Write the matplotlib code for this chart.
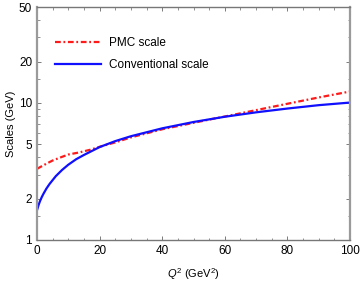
import numpy as np
import matplotlib
matplotlib.use('Agg')
import matplotlib.pyplot as plt
from matplotlib.ticker import FixedLocator, NullFormatter

plt.rcParams['font.family'] = ['Liberation Sans', 'DejaVu Sans']
plt.rcParams['mathtext.fontset'] = 'custom'
plt.rcParams['mathtext.it'] = 'Liberation Sans:italic'
plt.rcParams['mathtext.rm'] = 'Liberation Sans'

# values
q2_conv = [0, 0.25, 0.5, 1, 1.5, 2, 3, 4, 6, 8, 10, 12.5, 15, 20, 25, 30, 40, 50, 60, 70, 80, 90, 100]
mu_conv = [1.65, 1.72, 1.8, 1.93, 2.05, 2.16, 2.37, 2.56, 2.92, 3.24, 3.54, 3.88, 4.17, 4.76, 5.26, 5.71, 6.52, 7.25, 7.92, 8.53, 9.09, 9.62, 10.05]

q2_pmc = [0, 1, 3, 5, 7.5, 10, 13.5, 17, 20, 25, 30, 40, 50, 55, 60, 70, 80, 90, 100]
mu_pmc = [3.3, 3.4, 3.6, 3.8, 4.0, 4.2, 4.35, 4.55, 4.78, 5.15, 5.6, 6.42, 7.15, 7.55, 7.95, 8.85, 9.85, 10.95, 12.1]

xticks = [0, 20, 40, 60, 80, 100]
yticks = [1, 2, 5, 10, 20, 50]
yminor = [1.5, 3, 4, 6, 7, 8, 9, 15, 30, 40]

fig = plt.figure(figsize=(3.61, 2.82), dpi=100)
ax = fig.add_axes([37/361, 1-240/282, 313/361, 233/282])

ax.plot(q2_pmc, mu_pmc, color='#ff1a1a', lw=1.6, linestyle=(0, (2.6, 1.2, 0.8, 1.2)), label='PMC scale')
ax.plot(q2_conv, mu_conv, color='#1010ff', lw=1.6, label='Conventional scale')

ax.set_yscale('log')
ax.set_xlim(0, 100)
ax.set_ylim(1, 50)
ax.xaxis.set_major_locator(FixedLocator(xticks))
ax.xaxis.set_minor_locator(FixedLocator(np.arange(0, 101, 5)))
ax.yaxis.set_major_locator(FixedLocator(yticks))
ax.yaxis.set_minor_locator(FixedLocator(yminor))
ax.yaxis.set_minor_formatter(NullFormatter())
ax.set_yticklabels([str(t) for t in yticks])
ax.tick_params(which='both', direction='in', top=True, right=True, color='#666666', labelsize=8.5, pad=3.5)
ax.tick_params(which='major', length=3, width=0.6)
ax.tick_params(which='minor', length=1.8, width=0.5)

for side in ['left', 'right']:
    ax.spines[side].set_color('#9a9a9a')
    ax.spines[side].set_linewidth(1.6)
for side in ['top', 'bottom']:
    ax.spines[side].set_color('#777777')
    ax.spines[side].set_linewidth(1.0)

ax.set_xlabel(r'$Q^2$ (GeV$^2$)', fontsize=8, labelpad=7)
ax.set_ylabel('Scales (GeV)', fontsize=8, labelpad=2)

ax.legend(loc='upper left', bbox_to_anchor=(0.025, 0.915), frameon=False, fontsize=8.5,
          handlelength=3.9, handletextpad=0.6, labelspacing=0.8)

fig.savefig('out.png', dpi=100)
